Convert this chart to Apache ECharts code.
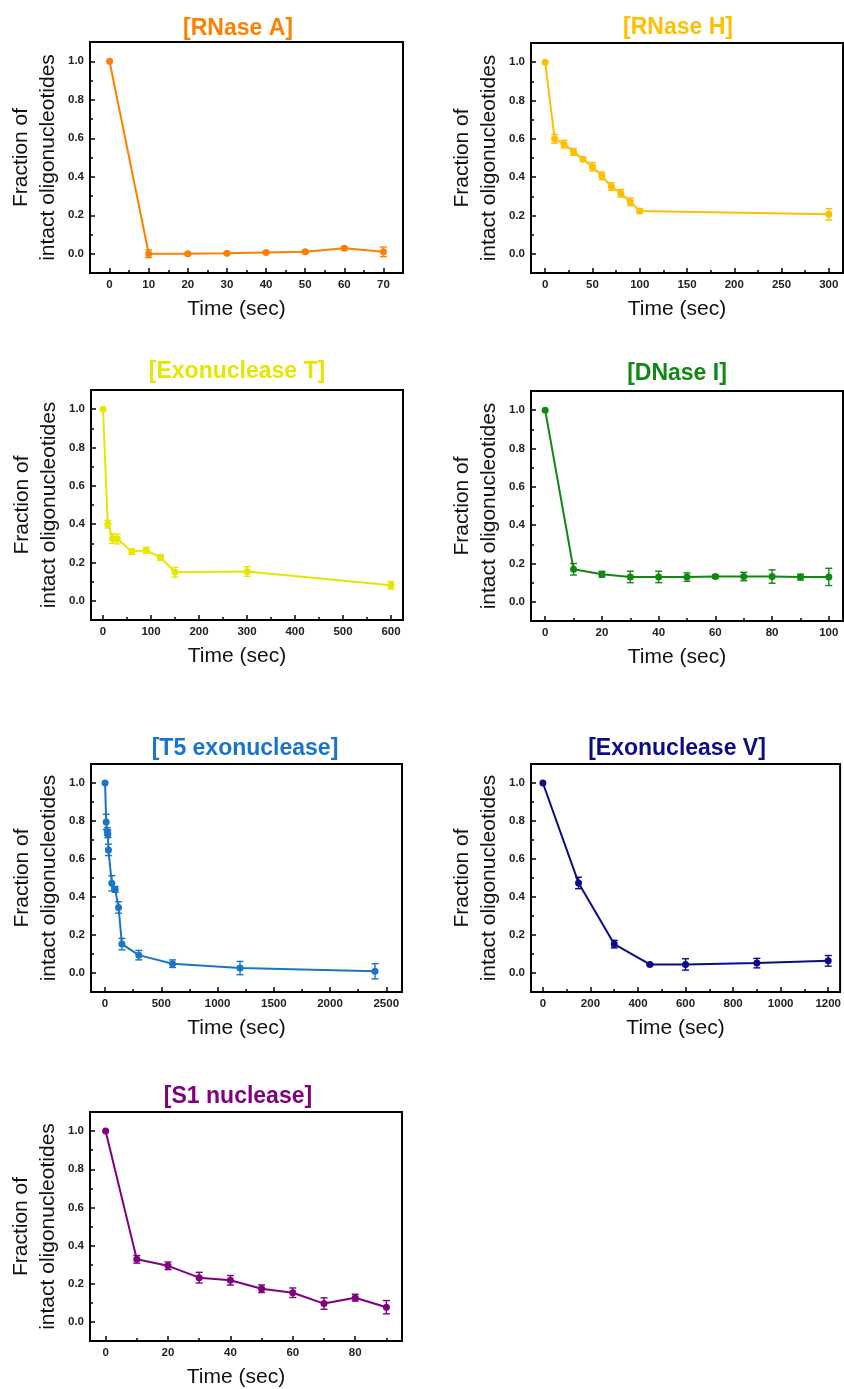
<!DOCTYPE html>
<html>
<head>
<meta charset="utf-8">
<script src="https://cdn.jsdelivr.net/npm/echarts@6/dist/echarts.min.js"></script>
<style>
  html, body { margin: 0; padding: 0; background: #fff; }
  #main { width: 844px; height: 1389px; }
</style>
</head>
<body>
<div id="main"></div>
<script>
// ---- data ----
const rnaseATime = [0, 10, 20, 30, 40, 50, 60, 70];
const rnaseAFrac = [1.0, 0.0, 0.0, 0.003, 0.007, 0.01, 0.028, 0.01];
const rnaseAErr = [0, 0.02, 0.005, 0.005, 0.006, 0.008, 0.008, 0.025];

const rnaseHTime = [0, 10, 20, 30, 40, 50, 60, 70, 80, 90, 100, 300];
const rnaseHFrac = [1.0, 0.6, 0.572, 0.532, 0.494, 0.454, 0.407, 0.351, 0.316, 0.272, 0.223, 0.206];
const rnaseHErr = [0, 0.023, 0.02, 0.018, 0.01, 0.022, 0.02, 0.02, 0.02, 0.02, 0.012, 0.03];

const exoTTime = [0, 10, 20, 30, 60, 90, 120, 150, 300, 600];
const exoTFrac = [1.0, 0.4, 0.325, 0.322, 0.257, 0.264, 0.226, 0.149, 0.153, 0.081];
const exoTErr = [0, 0.02, 0.025, 0.025, 0.015, 0.015, 0.015, 0.025, 0.025, 0.02];

const dnaseTime = [0, 10, 20, 30, 40, 50, 60, 70, 80, 90, 100];
const dnaseFrac = [1.0, 0.17, 0.144, 0.13, 0.13, 0.129, 0.132, 0.132, 0.132, 0.129, 0.13];
const dnaseErr = [0, 0.03, 0.015, 0.03, 0.03, 0.022, 0.008, 0.022, 0.035, 0.015, 0.045];

const t5Time = [0, 10, 20, 25, 30, 60, 90, 120, 150, 300, 600, 1200, 2400];
const t5Frac = [1.0, 0.795, 0.744, 0.732, 0.648, 0.472, 0.44, 0.345, 0.152, 0.094, 0.049, 0.026, 0.009];
const t5Err = [0, 0.04, 0.02, 0.02, 0.03, 0.04, 0.015, 0.03, 0.03, 0.025, 0.02, 0.035, 0.04];

const exoVTime = [0, 150, 300, 450, 600, 900, 1200];
const exoVFrac = [1.0, 0.474, 0.152, 0.045, 0.045, 0.052, 0.064];
const exoVErr = [0, 0.03, 0.02, 0.005, 0.03, 0.025, 0.028];

const s1Time = [0, 10, 20, 30, 40, 50, 60, 70, 80, 90];
const s1Frac = [1.0, 0.328, 0.294, 0.232, 0.218, 0.174, 0.153, 0.096, 0.127, 0.077];
const s1Err = [0, 0.02, 0.02, 0.028, 0.025, 0.02, 0.025, 0.03, 0.018, 0.035];

// tick labels
const yTicks = [0, 0.2, 0.4, 0.6, 0.8, 1.0];
const yMinor = [0.1, 0.3, 0.5, 0.7, 0.9];
const rnaseAXTicks = [0, 10, 20, 30, 40, 50, 60, 70];
const rnaseHXTicks = [0, 50, 100, 150, 200, 250, 300];
const exoTXTicks = [0, 100, 200, 300, 400, 500, 600];
const dnaseXTicks = [0, 20, 40, 60, 80, 100];
const t5XTicks = [0, 500, 1000, 1500, 2000, 2500];
const exoVXTicks = [0, 200, 400, 600, 800, 1000, 1200];
const s1XTicks = [0, 20, 40, 60, 80];

const FONT = "'Liberation Sans', Arial, sans-serif";

const panels = [
  { title: '[RNase A]', color: '#FF8000', t: rnaseATime, f: rnaseAFrac, e: rnaseAErr, ticks: rnaseAXTicks, minor: [5, 15, 25, 35, 45, 55, 65], xmin: -5, xmax: 75,
    left: 90, top: 42, width: 313, height: 231, tx: 238, ty: 27 },
  { title: '[RNase H]', color: '#FFBF00', t: rnaseHTime, f: rnaseHFrac, e: rnaseHErr, ticks: rnaseHXTicks, minor: [25, 75, 125, 175, 225, 275], xmin: -15, xmax: 315,
    left: 531, top: 43, width: 312, height: 230, tx: 678, ty: 26 },
  { title: '[Exonuclease T]', color: '#E6E600', t: exoTTime, f: exoTFrac, e: exoTErr, ticks: exoTXTicks, minor: [50, 150, 250, 350, 450, 550], xmin: -25, xmax: 625,
    left: 91, top: 390, width: 312, height: 230, tx: 237, ty: 370 },
  { title: '[DNase I]', color: '#118811', t: dnaseTime, f: dnaseFrac, e: dnaseErr, ticks: dnaseXTicks, minor: [10, 30, 50, 70, 90], xmin: -5, xmax: 105,
    left: 531, top: 391, width: 312, height: 230, tx: 677, ty: 372 },
  { title: '[T5 exonuclease]', color: '#1A75C8', t: t5Time, f: t5Frac, e: t5Err, ticks: t5XTicks, minor: [250, 750, 1250, 1750, 2250], xmin: -125, xmax: 2640,
    left: 91, top: 764, width: 311, height: 228, tx: 245, ty: 747 },
  { title: '[Exonuclease V]', color: '#0C0C88', t: exoVTime, f: exoVFrac, e: exoVErr, ticks: exoVXTicks, minor: [100, 300, 500, 700, 900, 1100], xmin: -50, xmax: 1250,
    left: 531, top: 764, width: 312, height: 228, tx: 677, ty: 747 },
  { title: '[S1 nuclease]', color: '#800080', t: s1Time, f: s1Frac, e: s1Err, ticks: s1XTicks, minor: [10, 30, 50, 70, 90], xmin: -5, xmax: 95,
    left: 90, top: 1112, width: 312, height: 231, tx: 238, ty: 1095 }
];

const chart = echarts.init(document.getElementById('main'));

const grid = [], xAxis = [], yAxis = [], series = [], title = [];

panels.forEach((p, i) => {
  grid.push({ left: p.left, top: p.top, width: p.width, height: p.height,
    show: true, borderColor: '#000', borderWidth: 2, backgroundColor: 'transparent' });

  title.push({ text: p.title, left: p.tx - 5, top: p.ty - 3, textAlign: 'center', textVerticalAlign: 'middle',
    textStyle: { color: p.color, fontSize: 23, fontWeight: 'bold', fontFamily: FONT } });

  // main x axis (labels + major ticks)
  xAxis.push({ type: 'value', gridIndex: i, position: 'bottom', min: p.xmin, max: p.xmax,
    axisLine: { show: false, onZero: false },
    axisTick: { inside: true, length: 5, customValues: p.ticks, lineStyle: { color: '#000', width: 1.5 } },
    axisLabel: { customValues: p.ticks, margin: 6, color: '#222', fontSize: 11.5, fontWeight: 'bold', fontFamily: FONT,
      formatter: v => String(v) },
    splitLine: { show: false },
    name: 'Time (sec)', nameLocation: 'middle', nameGap: 26,
    nameTextStyle: { fontSize: 21, color: '#111', fontFamily: FONT, padding: [0, 20, 0, 0] } });
  // minor x ticks
  xAxis.push({ type: 'value', gridIndex: i, position: 'bottom', min: p.xmin, max: p.xmax,
    axisLine: { show: false, onZero: false },
    axisTick: { inside: true, length: 3, customValues: p.minor, lineStyle: { color: '#000', width: 1.5 } },
    axisLabel: { show: false }, splitLine: { show: false } });

  yAxis.push({ type: 'value', gridIndex: i, position: 'left', min: -0.1, max: 1.1,
    axisLine: { show: false, onZero: false },
    axisTick: { inside: true, length: 5, customValues: yTicks, lineStyle: { color: '#000', width: 1.5 } },
    axisLabel: { customValues: yTicks, margin: 6, color: '#222', fontSize: 11.5, fontWeight: 'bold', fontFamily: FONT,
      formatter: v => v.toFixed(1) },
    splitLine: { show: false },
    name: 'Fraction of\nintact oligonucleotides', nameLocation: 'middle', nameGap: 28,
    nameTextStyle: { fontSize: 21, lineHeight: 27, color: '#111', fontFamily: FONT } });
  yAxis.push({ type: 'value', gridIndex: i, position: 'left', min: -0.1, max: 1.1,
    axisLine: { show: false, onZero: false },
    axisTick: { inside: true, length: 3, customValues: yMinor, lineStyle: { color: '#000', width: 1.5 } },
    axisLabel: { show: false }, splitLine: { show: false } });

  const pts = p.t.map((x, k) => [x, p.f[k]]);
  const errs = [];
  p.t.forEach((x, k) => { if (p.e[k] > 0) errs.push([x, p.f[k] - p.e[k], p.f[k] + p.e[k]]); });

  series.push({ type: 'line', xAxisIndex: 2 * i, yAxisIndex: 2 * i, data: pts,
    symbol: 'circle', symbolSize: 7, color: p.color,
    lineStyle: { width: 2, color: p.color }, itemStyle: { color: p.color }, animation: false });

  const col = p.color;
  series.push({ type: 'custom', xAxisIndex: 2 * i, yAxisIndex: 2 * i, data: errs,
    encode: { x: 0, y: [1, 2] }, animation: false, z: 3,
    renderItem: (params, api) => {
      const x = api.value(0);
      const lo = api.coord([x, api.value(1)]);
      const hi = api.coord([x, api.value(2)]);
      const st = { stroke: col, lineWidth: 1.4, fill: null };
      const w = 3.5;
      return { type: 'group', children: [
        { type: 'line', shape: { x1: lo[0], y1: lo[1], x2: hi[0], y2: hi[1] }, style: st },
        { type: 'line', shape: { x1: lo[0] - w, y1: lo[1], x2: lo[0] + w, y2: lo[1] }, style: st },
        { type: 'line', shape: { x1: hi[0] - w, y1: hi[1], x2: hi[0] + w, y2: hi[1] }, style: st }
      ] };
    } });
});

chart.setOption({ animation: false, backgroundColor: '#fff', title, grid, xAxis, yAxis, series });
</script>
</body>
</html>
